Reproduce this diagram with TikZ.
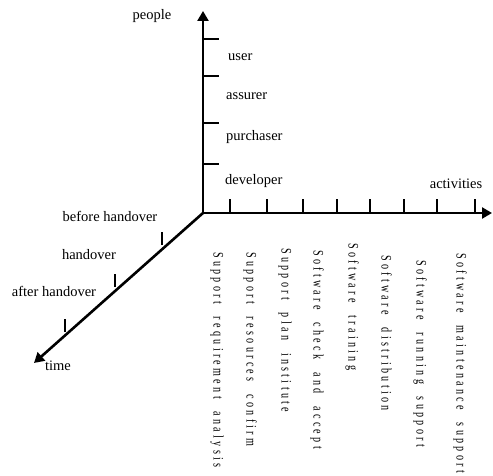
\documentclass[tikz,border=0pt]{standalone}
\usepackage{fontspec}
\setmainfont{Liberation Serif}
\newfontfamily\condserif[FakeStretch=0.7]{Liberation Serif}
\usetikzlibrary{arrows.meta,calc}

% widely spaced lettering for the activity names
\ExplSyntaxOn
\NewDocumentCommand \spreadtext { m }
  {
    \str_map_inline:nn { #1 }
      {
        \str_if_eq:nnTF { ##1 } { ~ }
          { \kern 9.5pt }
          { ##1 \kern 3.3pt }
      }
  }
\ExplSyntaxOff

\tikzset{
  axis/.style={line width=2.6pt, -{Triangle[length=10pt,width=11pt]}},
  tick/.style={line width=1.2pt},
  lbl/.style={inner sep=0pt, font=\fontsize{14.5}{16}\selectfont},
  vlbl/.style={inner sep=0pt, rotate=-90, anchor=mid west,
                font=\fontsize{14.5}{16}\condserif},
}

\begin{document}
\begin{tikzpicture}[x=1pt, y=-1pt]
\useasboundingbox (0,0) rectangle (493,476);

% axis end points
\coordinate (O) at (203,213);
\coordinate (P) at (203,11);
\coordinate (A) at (492,213);
\coordinate (T) at (34,363);

% people and activities axes share the corner at O
\draw[line width=2.6pt, {Triangle[length=10pt,width=11pt]}-{Triangle[length=10pt,width=11pt]}]
  (P) -- (O) -- (A);
% time axis
\draw[axis] (O) -- (T);

% ticks on the people axis
\foreach \y in {39,76,123,164}
  \draw[tick] (203,\y) -- ++(16,0);

% ticks on the activities axis
\foreach \x in {230,267,303,337,370,404,437,475}
  \draw[tick] (\x,213) -- ++(0,-14);

% ticks on the time axis
\foreach \t [count=\i] in {0.243,0.521,0.817}
  \coordinate (t\i) at ($(O)!\t!(T)$);
\foreach \i in {1,2,3}
  \draw[tick] ($(t\i)+(0,-4)$) -- ++(0,-13);

% axis names
\node[lbl, anchor=mid] (lp) at (152,17) {people};
\node[lbl, anchor=mid] (la) at (456,186) {activities};
\node[lbl, anchor=mid] (lt) at (58,368) {time};

% people levels
\node[lbl, anchor=mid west] (u1) at (228,58) {user};
\node[lbl, anchor=mid west] (u2) at (226,97) {assurer};
\node[lbl, anchor=mid west] (u3) at (226,138) {purchaser};
\node[lbl, anchor=mid west] (u4) at (225,182) {developer};

% time phases
\node[lbl, anchor=mid] (h1) at (110,219) {before handover};
\node[lbl, anchor=mid] (h2) at (89,257) {handover};
\node[lbl, anchor=mid] (h3) at (54,294) {after handover};

% activities
\node[vlbl] (a1) at (216,252) {\spreadtext{Support requirement analysis}};
\node[vlbl] (a2) at (249,252) {\spreadtext{Support resources confirm}};
\node[vlbl] (a3) at (284,248) {\spreadtext{Support plan institute}};
\node[vlbl] (a4) at (316,250) {\spreadtext{Software check and accept}};
\node[vlbl] (a5) at (351,243) {\spreadtext{Software training}};
\node[vlbl] (a6) at (384,255) {\spreadtext{Software distribution}};
\node[vlbl] (a7) at (419,260) {\spreadtext{Software running support}};
\node[vlbl] (a8) at (459,253) {\spreadtext{Software maintenance support}};
\end{tikzpicture}
\end{document}
